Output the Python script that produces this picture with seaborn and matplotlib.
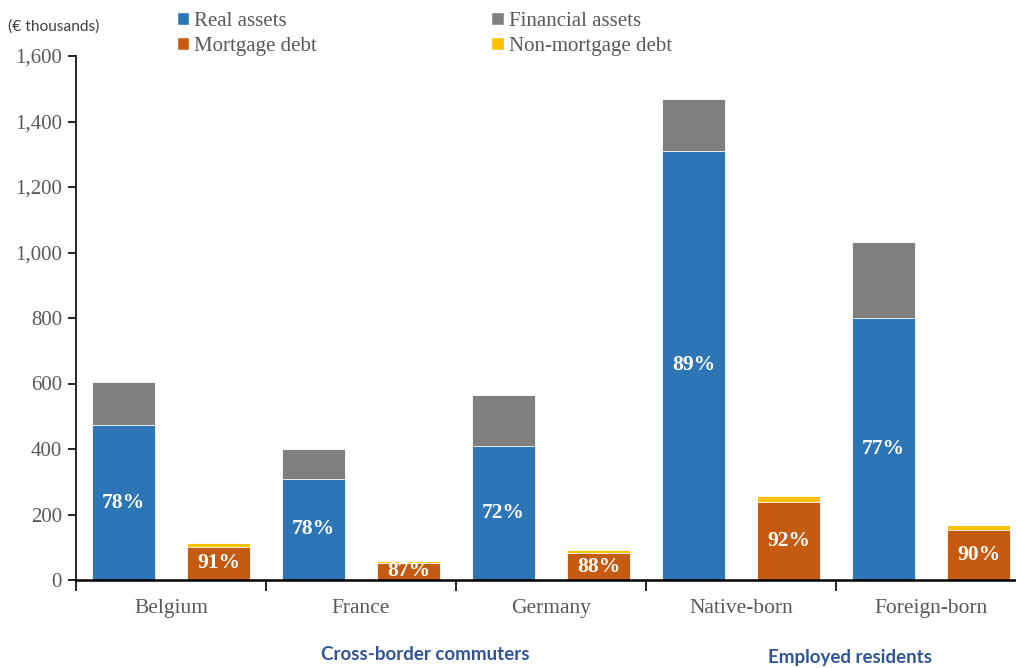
import matplotlib
matplotlib.use("Agg")
import matplotlib.pyplot as plt
import seaborn as sns
import pandas as pd
from matplotlib.patches import Patch
from matplotlib.ticker import FuncFormatter, FixedLocator

categories = ["Belgium", "France", "Germany", "Native-born", "Foreign-born"]
real_assets = [473, 309, 409, 1310, 800]
financial_assets = [132, 91, 156, 159, 232]
mortgage_debt = [101, 52, 82, 238, 153]
non_mortgage_debt = [12, 6, 10, 18, 15]
real_share_labels = ["78%", "78%", "72%", "89%", "77%"]
mortgage_share_labels = ["91%", "87%", "88%", "92%", "90%"]
group_labels = ["Cross-border commuters", "Employed residents"]
series_names = ["Real assets", "Financial assets", "Mortgage debt", "Non-mortgage debt"]

BLUE = "#2E75B6"
GRAY = "#7F7F7F"
ORANGE = "#C55A11"
YELLOW = "#FFC000"
TXT = "#595959"

sns.set_theme(style="white")
plt.rcParams['font.family'] = ['Liberation Serif', 'DejaVu Serif']

fig = plt.figure(figsize=(10.16, 6.68), dpi=100)
ax = fig.add_axes([76/1016, 88/668, 940/1016, 524/668])

totals_df = pd.DataFrame({
    "category": categories * 2,
    "kind": ["assets"] * 5 + ["debt"] * 5,
    "value": [r + f for r, f in zip(real_assets, financial_assets)]
             + [m + n for m, n in zip(mortgage_debt, non_mortgage_debt)],
})
base_df = pd.DataFrame({
    "category": categories * 2,
    "kind": ["assets"] * 5 + ["debt"] * 5,
    "value": real_assets + mortgage_debt,
})

common = dict(x="category", y="value", hue="kind", hue_order=["assets", "debt"],
              order=categories, width=1.0, gap=0.34, dodge=True, legend=False,
              errorbar=None, saturation=1, ax=ax, edgecolor="white", linewidth=0.6)
sns.barplot(data=totals_df, palette={"assets": GRAY, "debt": YELLOW}, **common)
sns.barplot(data=base_df, palette={"assets": BLUE, "debt": ORANGE}, **common)

# percentage labels centred in base bars
ax.bar_label(ax.containers[2], labels=real_share_labels, label_type="center",
             color="white", fontsize=15.5, fontweight="bold")
ax.bar_label(ax.containers[3], labels=mortgage_share_labels, label_type="center",
             color="white", fontsize=15.5, fontweight="bold")

ax.set_ylim(0, 1600)
ax.set_xlim(-0.5, 4.447)
ax.set_xlabel("")
ax.set_ylabel("")
ax.yaxis.set_major_locator(FixedLocator(range(0, 1601, 200)))
ax.yaxis.set_major_formatter(FuncFormatter(lambda v, p: f"{int(v):,}"))
ax.tick_params(axis="y", which="major", direction="out", length=6, width=1.2,
               color="black", labelsize=15, labelcolor=TXT, left=True, pad=4)

ax.xaxis.set_major_locator(FixedLocator([-0.5, 0.5, 1.5, 2.5, 3.5]))
ax.xaxis.set_major_formatter(FuncFormatter(lambda v, p: ""))
ax.xaxis.set_minor_locator(FixedLocator(range(len(categories))))
ax.set_xticks(range(len(categories)), labels=categories, minor=True)
ax.tick_params(axis="x", which="major", direction="out", length=8, width=1.2,
               color="black", bottom=True)
ax.tick_params(axis="x", which="minor", length=0, labelsize=15.5, labelcolor=TXT, pad=14)

for s in ["top", "right"]:
    ax.spines[s].set_visible(False)
ax.spines["left"].set_color("black")
ax.spines["left"].set_linewidth(1.2)
ax.spines["bottom"].set_color("black")
ax.spines["bottom"].set_linewidth(1.8)

handles = [Patch(facecolor=BLUE), Patch(facecolor=ORANGE),
           Patch(facecolor=GRAY), Patch(facecolor=YELLOW)]
labels = [series_names[0], series_names[2], series_names[1], series_names[3]]
fig.legend(handles, labels, ncol=2, loc="upper left",
           bbox_to_anchor=(158/1016, 1 + 7/668), frameon=False, fontsize=15,
           handlelength=0.6, handleheight=0.6, handletextpad=0.25,
           columnspacing=8.35, labelspacing=0.3, labelcolor=TXT)

fig.text(8/1016, 1 - 27/668, "(€ thousands)", fontsize=11.2, color="#404040",
         family=["Lato", "DejaVu Sans"], va="center", ha="left")
fig.text(425/1016, 1 - 655/668, group_labels[0], fontsize=13.5, color="#2F5597",
         family=["Lato", "DejaVu Sans"], fontweight="bold", ha="center", va="center")
fig.text(850/1016, 1 - 657/668, group_labels[1], fontsize=13.5, color="#2F5597",
         family=["Lato", "DejaVu Sans"], fontweight="bold", ha="center", va="center")

fig.savefig("out.png", dpi=100)
